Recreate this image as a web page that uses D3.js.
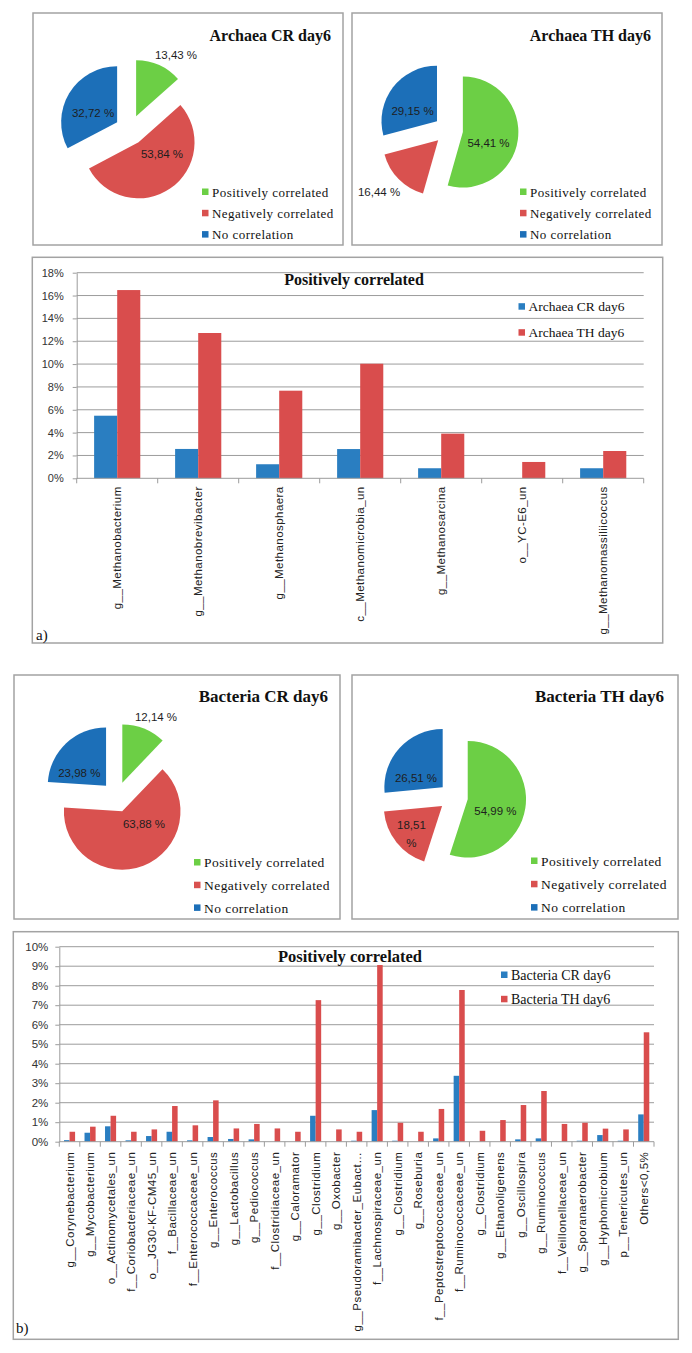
<!DOCTYPE html>
<html><head><meta charset="utf-8">
<script src="https://cdn.jsdelivr.net/npm/d3@7"></script>
<style>body{margin:0;background:#fff}svg{display:block}</style>
</head><body>
<svg id="c" width="692" height="1353"></svg>
<script>
// ---------------- DATA ----------------
const pieCategories = ["Positively correlated", "Negatively correlated", "No correlation"];
const archaeaCR = [13.43, 53.84, 32.72];
const archaeaTH = [54.41, 16.44, 29.15];
const bacteriaCR = [12.14, 63.88, 23.98];
const bacteriaTH = [54.99, 18.51, 26.51];

const archaeaGenera = ["g__Methanobacterium", "g__Methanobrevibacter", "g__Methanosphaera",
  "c__Methanomicrobia_un", "g__Methanosarcina", "o__YC-E6_un", "g__Methanomassiliicoccus"];
const archaeaCRpos = [5.48, 2.57, 1.23, 2.56, 0.88, 0, 0.88];
const archaeaTHpos = [16.48, 12.72, 7.67, 10.03, 3.91, 1.43, 2.39];
const archaeaTicks = [0, 2, 4, 6, 8, 10, 12, 14, 16, 18];
const archaeaSeries = ["Archaea CR day6", "Archaea TH day6"];

const bacteriaTaxa = ["g__Corynebacterium", "g__Mycobacterium", "o__Actinomycetales_un",
  "f__Coriobacteriaceae_un", "o__JG30-KF-CM45_un", "f__Bacillaceae_un", "f__Enterococcaceae_un",
  "g__Enterococcus", "g__Lactobacillus", "g__Pediococcus", "f__Clostridiaceae_un", "g__Caloramator",
  "g__Clostridium", "g__Oxobacter", "g__Pseudoramibacter_Eubact\u2026", "f__Lachnospiraceae_un",
  "g__Clostridium ", "g__Roseburia", "f__Peptostreptococcaceae_un", "f__Ruminococcaceae_un",
  "g__Clostridium  ", "g__Ethanoligenens", "g__Oscillospira", "g__Ruminococcus",
  "f__Veillonellaceae_un", "g__Sporanaerobacter", "g__Hyphomicrobium", "p__Tenericutes_un",
  "Others<0,5%"];
const bacteriaCRpos = [0.08, 0.46, 0.79, 0.07, 0.29, 0.51, 0.07, 0.24, 0.14, 0.12, 0, 0, 1.33, 0,
  0.05, 1.62, 0.05, 0, 0.17, 3.38, 0, 0, 0.12, 0.17, 0, 0.05, 0.34, 0.05, 1.40];
const bacteriaTHpos = [0.51, 0.77, 1.33, 0.51, 0.63, 1.83, 0.84, 2.12, 0.68, 0.91, 0.68, 0.51, 7.26,
  0.63, 0.51, 9.06, 0.97, 0.51, 1.68, 7.78, 0.56, 1.11, 1.88, 2.60, 0.91, 0.97, 0.67, 0.63, 5.61];
const bacteriaTicks = [0, 1, 2, 3, 4, 5, 6, 7, 8, 9, 10];
const bacteriaSeries = ["Bacteria CR day6", "Bacteria TH day6"];

// ---------------- STYLE ----------------
const PIE_COL = ["#6ccf45", "#d9514f", "#1c6fb8"];
const BAR_COL = ["#2a7ec1", "#d94d4d"];
const BORDER = "#a3a3a3";
const GRID = "#9c9c9c";
const SERIF = "'Liberation Serif','Times New Roman',serif";
const SANS = "'Liberation Sans',Arial,sans-serif";

const svg = d3.select("#c");
svg.append("rect").attr("width", 692).attr("height", 1353).attr("fill", "#fff");

const fmt = v => d3.format(".2f")(v).replace(".", ",") + " %";

function panel(x, y, w, h) {
  svg.append("rect").attr("x", x).attr("y", y).attr("width", w).attr("height", h)
    .attr("fill", "#fff").attr("stroke", BORDER).attr("stroke-width", 1.5);
}

// ---------------- PIES ----------------
function drawPie(p) {
  panel(p.box[0], p.box[1], p.box[2], p.box[3]);
  svg.append("text").attr("x", p.titleX).attr("y", p.titleY).attr("text-anchor", "end")
    .attr("font-family", SERIF).attr("font-weight", "bold").attr("font-size", p.titleSize)
    .attr("fill", "#111").text(p.title);

  const pie = d3.pie().sort(null).value(v => v);
  const arc = d3.arc().innerRadius(0).outerRadius(p.r);
  const arcs = pie(p.values);
  const g = svg.append("g").attr("transform", `translate(${p.cx},${p.cy})`);
  g.selectAll("path").data(arcs).join("path")
    .attr("d", arc)
    .attr("fill", (d, i) => PIE_COL[i])
    .attr("transform", d => {
      const m = (d.startAngle + d.endAngle) / 2;
      return `translate(${p.explode * Math.sin(m)},${-p.explode * Math.cos(m)})`;
    });
  arcs.forEach((d, i) => {
    const off = p.labels[i];
    const lines = off[2] ? [d3.format(".2f")(p.values[i]).replace(".", ","), "%"] : [fmt(p.values[i])];
    const t = g.append("text").attr("text-anchor", "middle")
      .attr("font-family", SANS).attr("font-size", 11.5).attr("fill", "#1e1e1e");
    lines.forEach((ln, k) => {
      t.append("tspan").attr("x", off[0]).attr("y", off[1] + k * 17.5).attr("dy", "0.35em").text(ln);
    });
  });

  const lg = svg.append("g");
  pieCategories.forEach((c, i) => {
    const yy = p.legY + i * p.legGap;
    lg.append("rect").attr("x", p.legX).attr("y", yy - 3.5).attr("width", 6.5).attr("height", 6.5)
      .attr("fill", PIE_COL[i]);
    lg.append("text").attr("x", p.legX + 10).attr("y", yy).attr("dy", "0.35em")
      .attr("font-family", SERIF).attr("font-size", p.legSize).attr("letter-spacing", 0.45)
      .attr("fill", "#111").text(c);
  });
}

drawPie({ values: archaeaCR, title: "Archaea CR day6", box: [33, 13, 310, 232], titleX: 331, titleY: 41, titleSize: 16,
  cx: 130, cy: 130, r: 56, explode: 15,
  labels: [[46, -75], [32, 24], [-37, -17]],
  legX: 202, legY: 192, legGap: 21.3, legSize: 13 });
drawPie({ values: archaeaTH, title: "Archaea TH day6", box: [352, 13, 310, 232], titleX: 651, titleY: 41, titleSize: 16,
  cx: 448.5, cy: 130, r: 55.5, explode: 14.5,
  labels: [[40, 13], [-69.5, 62], [-36, -19]],
  legX: 520, legY: 192, legGap: 21.3, legSize: 13 });
drawPie({ values: bacteriaCR, title: "Bacteria CR day6", box: [14, 675, 326, 244], titleX: 328, titleY: 702, titleSize: 17,
  cx: 116.6, cy: 797, r: 58.3, explode: 15.4,
  labels: [[39.4, -79.7], [27.4, 27], [-37.3, -23.7]],
  legX: 194, legY: 862.5, legGap: 22.7, legSize: 13.5 });
drawPie({ values: bacteriaTH, title: "Bacteria TH day6", box: [352, 675, 326, 244], titleX: 664, titleY: 702, titleSize: 17,
  cx: 453.4, cy: 797, r: 58.3, explode: 14.5,
  labels: [[42, 13.7], [-42, 28, true], [-37.4, -19.3]],
  legX: 531, legY: 861, legGap: 23.3, legSize: 13.5 });

// ---------------- BARS ----------------
function drawBars(b) {
  panel(b.box[0], b.box[1], b.box[2], b.box[3]);
  const x = d3.scaleBand().domain(b.cats).range([b.x0, b.x1]).paddingInner(b.pad).paddingOuter(b.pad / 2);
  const xs = d3.scaleBand().domain([0, 1]).range([0, x.bandwidth()]);
  const y = d3.scaleLinear().domain([0, d3.max(b.ticks)]).range([b.y0, b.y1]);
  const g = svg.append("g");

  // gridlines
  g.append("g").selectAll("line").data(b.ticks.filter(t => t > 0)).join("line")
    .attr("x1", b.x0).attr("x2", b.x1).attr("y1", d => y(d)).attr("y2", d => y(d))
    .attr("stroke", GRID).attr("stroke-width", 1);

  // bars
  [b.s1, b.s2].forEach((vals, si) => {
    g.append("g").selectAll("rect").data(vals).join("rect")
      .attr("x", (d, i) => x(b.cats[i]) + xs(si))
      .attr("width", xs.bandwidth())
      .attr("y", d => y(d))
      .attr("height", d => y(0) - y(d))
      .attr("fill", BAR_COL[si]);
  });

  // y axis
  const ya = g.append("g").attr("transform", `translate(${b.x0},0)`)
    .call(d3.axisLeft(y).tickValues(b.ticks).tickFormat(d => d + "%").tickSize(4).tickSizeOuter(0).tickPadding(b.tickPad));
  ya.select(".domain").attr("stroke", GRID);
  ya.selectAll(".tick line").attr("stroke", GRID);
  ya.selectAll("text").attr("font-family", SANS).attr("font-size", b.tickSize).attr("fill", "#333");

  // x axis line + boundary ticks
  g.append("line").attr("x1", b.x0).attr("x2", b.x1).attr("y1", y(0)).attr("y2", y(0)).attr("stroke", GRID);
  g.append("g").selectAll("line").data(d3.range(b.cats.length + 1)).join("line")
    .attr("x1", i => b.x0 + i * x.step()).attr("x2", i => b.x0 + i * x.step())
    .attr("y1", y(0)).attr("y2", y(0) + 5).attr("stroke", GRID);

  // x labels
  const xa = g.append("g").attr("transform", `translate(0,${y(0)})`)
    .call(d3.axisBottom(x).tickSize(0));
  xa.select(".domain").remove();
  xa.selectAll("text")
    .attr("transform", "rotate(-90)")
    .attr("x", -b.labGap).attr("y", 0).attr("dy", "0.35em")
    .attr("text-anchor", "end")
    .attr("font-family", SANS).attr("font-size", b.labSize).attr("letter-spacing", b.labSpacing)
    .attr("fill", "#222");

  // title
  svg.append("text").attr("x", b.titleX).attr("y", b.titleY).attr("text-anchor", "middle")
    .attr("font-family", SERIF).attr("font-weight", "bold").attr("font-size", b.titleSize)
    .attr("fill", "#111").text("Positively correlated");

  // legend
  b.series.forEach((s, i) => {
    const yy = b.legY + i * b.legGap;
    svg.append("rect").attr("x", b.legX).attr("y", yy - 3.5).attr("width", 6.5).attr("height", 6.5).attr("fill", BAR_COL[i]);
    svg.append("text").attr("x", b.legX + 10).attr("y", yy).attr("dy", "0.35em")
      .attr("font-family", SERIF).attr("font-size", b.legSize).attr("fill", "#111").text(s);
  });

  // panel tag
  svg.append("text").attr("x", b.tagX).attr("y", b.tagY).attr("font-family", SERIF)
    .attr("font-size", 15).attr("fill", "#111").text(b.tag);
}

drawBars({ cats: archaeaGenera, s1: archaeaCRpos, s2: archaeaTHpos, ticks: archaeaTicks, series: archaeaSeries,
  box: [32.3, 257.3, 630.4, 385.7], x0: 76.7, x1: 643.7, y0: 478.3, y1: 272.7, pad: 0.43,
  tickPad: 9, tickSize: 11, labGap: 8, labSize: 11.5, labSpacing: 0.45,
  titleX: 354, titleY: 285, titleSize: 16,
  legX: 518.5, legY: 306.7, legGap: 26, legSize: 13.5,
  tag: "a)", tagX: 36, tagY: 640 });

drawBars({ cats: bacteriaTaxa, s1: bacteriaCRpos, s2: bacteriaTHpos, ticks: bacteriaTicks, series: bacteriaSeries,
  box: [13.3, 931.7, 665, 407.6], x0: 59.3, x1: 654, y0: 1141.7, y1: 946.7, pad: 0.46,
  tickPad: 7, tickSize: 11.5, labGap: 10, labSize: 11.5, labSpacing: 0.5,
  titleX: 350, titleY: 962, titleSize: 16.5,
  legX: 501, legY: 975, legGap: 24.3, legSize: 14,
  tag: "b)", tagX: 16, tagY: 1333 });
</script>
</body></html>
